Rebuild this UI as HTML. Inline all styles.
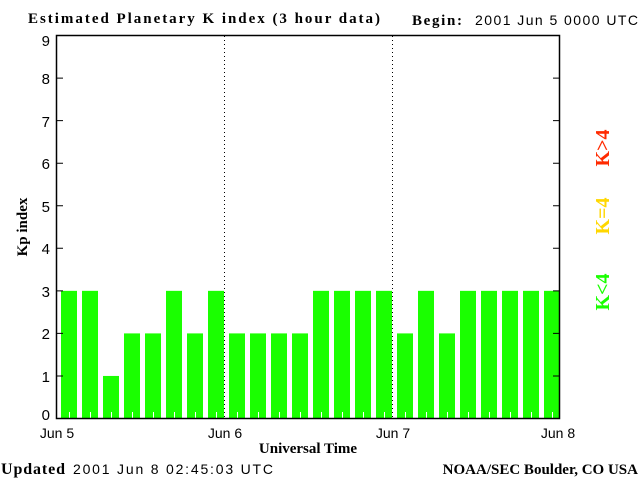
<!DOCTYPE html><html><head><style>body{margin:0;background:#fff}svg{display:block}</style></head><body>
<svg width="640" height="480" xmlns="http://www.w3.org/2000/svg">
<rect width="640" height="480" fill="#fff"/>
<g fill="#1aff00">
<rect x="61" y="290.85" width="16" height="127.65"/>
<rect x="82" y="290.85" width="16" height="127.65"/>
<rect x="103" y="375.95" width="16" height="42.55"/>
<rect x="124" y="333.4" width="16" height="85.1"/>
<rect x="145" y="333.4" width="16" height="85.1"/>
<rect x="166" y="290.85" width="16" height="127.65"/>
<rect x="187" y="333.4" width="16" height="85.1"/>
<rect x="208" y="290.85" width="16" height="127.65"/>
<rect x="229" y="333.4" width="16" height="85.1"/>
<rect x="250" y="333.4" width="16" height="85.1"/>
<rect x="271" y="333.4" width="16" height="85.1"/>
<rect x="292" y="333.4" width="16" height="85.1"/>
<rect x="313" y="290.85" width="16" height="127.65"/>
<rect x="334" y="290.85" width="16" height="127.65"/>
<rect x="355" y="290.85" width="16" height="127.65"/>
<rect x="376" y="290.85" width="16" height="127.65"/>
<rect x="397" y="333.4" width="16" height="85.1"/>
<rect x="418" y="290.85" width="16" height="127.65"/>
<rect x="439" y="333.4" width="16" height="85.1"/>
<rect x="460" y="290.85" width="16" height="127.65"/>
<rect x="481" y="290.85" width="16" height="127.65"/>
<rect x="502" y="290.85" width="16" height="127.65"/>
<rect x="523" y="290.85" width="16" height="127.65"/>
<rect x="544" y="290.85" width="16" height="127.65"/>
</g>
<g stroke="#fff">
<path d="M69.5 412V418M90.5 412V418M111.5 412V418M132.5 412V418M153.5 412V418M174.5 412V418M195.5 412V418M216.5 412V418M237.5 412V418M258.5 412V418M279.5 412V418M300.5 412V418M321.5 412V418M342.5 412V418M363.5 412V418M384.5 412V418M405.5 412V418M426.5 412V418M447.5 412V418M468.5 412V418M489.5 412V418M510.5 412V418M531.5 412V418M552.5 412V418"/>
</g>
<rect x="56.5" y="35.5" width="503" height="383" fill="none" stroke="#000" stroke-width="1.5"/>
<line x1="224.5" y1="36" x2="224.5" y2="418" stroke="#000" stroke-dasharray="1,3"/>
<line x1="392.5" y1="36" x2="392.5" y2="418" stroke="#000" stroke-dasharray="1,3"/>
<g stroke="#000">
<path d="M56 418.5H63M56 375.95H63M56 333.4H63M56 290.85H63M56 248.3H63M56 205.75H63M56 163.2H63M56 120.65H63M56 78.1H63M56 35.55H63"/>
<path d="M553 418.5H560M553 375.95H560M553 333.4H560M553 290.85H560M553 248.3H560M553 205.75H560M553 163.2H560M553 120.65H560M553 78.1H560M553 35.55H560"/>
</g>
<g font-family="Liberation Sans, sans-serif" font-size="15" text-anchor="end">
<text x="50" y="420">0</text><text x="50" y="382">1</text><text x="50" y="339">2</text><text x="50" y="297">3</text><text x="50" y="254">4</text><text x="50" y="212">5</text><text x="50" y="169">6</text><text x="50" y="127">7</text><text x="50" y="84">8</text><text x="50" y="46">9</text>
</g>
<g font-family="Liberation Sans, sans-serif" font-size="14" text-anchor="middle">
<text x="57" y="438">Jun 5</text><text x="225" y="438">Jun 6</text><text x="393" y="438">Jun 7</text><text x="558" y="438">Jun 8</text></g>
<text x="28" y="23" font-family="Liberation Serif, serif" font-weight="bold" font-size="15" textLength="352" lengthAdjust="spacing">Estimated Planetary K index (3 hour data)</text>
<text x="412" y="25" font-family="Liberation Serif, serif" font-weight="bold" font-size="15" textLength="50">Begin:</text>
<text x="475" y="25" font-family="Liberation Sans, sans-serif" font-size="14" textLength="163" lengthAdjust="spacing">2001 Jun 5 0000 UTC</text>
<text x="308" y="453" text-anchor="middle" font-family="Liberation Serif, serif" font-weight="bold" font-size="15">Universal Time</text>
<text transform="translate(27,227) rotate(-90)" text-anchor="middle" font-family="Liberation Serif, serif" font-weight="bold" font-size="15">Kp index</text>
<text x="1" y="474" font-family="Liberation Serif, serif" font-weight="bold" font-size="16" textLength="64">Updated</text>
<text x="73" y="474" font-family="Liberation Sans, sans-serif" font-size="14" textLength="200" lengthAdjust="spacing">2001 Jun  8 02:45:03 UTC</text>
<text x="638" y="474" text-anchor="end" font-family="Liberation Serif, serif" font-weight="bold" font-size="15">NOAA/SEC Boulder, CO USA</text>
<g font-family="Liberation Serif, serif" font-weight="bold" font-size="20" text-anchor="middle">
<text transform="translate(609,148) rotate(-90)" fill="#ff2a00">K&gt;4</text>
<text transform="translate(609,216) rotate(-90)" fill="#ffd700">K=4</text>
<text transform="translate(609,292) rotate(-90)" fill="#1aff00">K&lt;4</text></g>
</svg></body></html>
